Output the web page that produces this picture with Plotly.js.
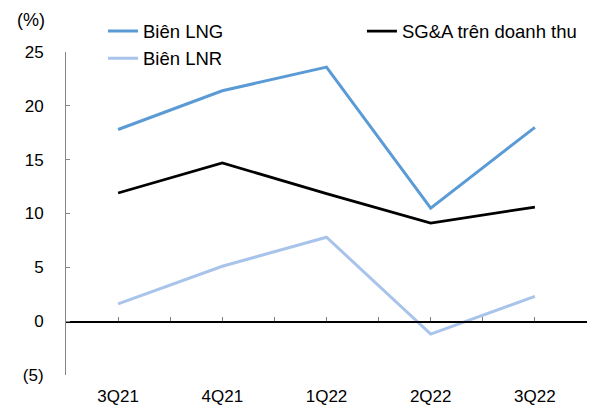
<!DOCTYPE html>
<html>
<head>
<meta charset="utf-8">
<script src="https://cdn.plot.ly/plotly-3.0.1.min.js"></script>
<style>html,body{margin:0;padding:0;background:#fff;}#chart{width:593px;height:410px;}</style>
</head>
<body>
<div id="chart"></div>
<script>
const categories = ['3Q21', '4Q21', '1Q22', '2Q22', '3Q22'];
const bienLNG = [17.8, 21.4, 23.6, 10.5, 18.0];
const sgaRevenue = [11.9, 14.7, 11.85, 9.1, 10.6];
const bienLNR = [1.6, 5.1, 7.8, -1.2, 2.3];
const yTickVals = [-5, 0, 5, 10, 15, 20, 25];
const yTickText = ['(5)', '0', '5', '10', '15', '20', '25'];
const seriesNames = ['Biên LNG', 'SG&A trên doanh thu', 'Biên LNR'];

const FONT = 'Liberation Sans, Arial, sans-serif';
const FS = 17;

// category positions on a linear axis (index of each category)
const xIdx = categories.map((c, i) => i);
// tick marks at every category and every boundary between categories
const xTickVals = [], xTickText = [];
for (let i = 0; i <= categories.length * 2; i++) {
  const v = -0.5 + i * 0.5;
  xTickVals.push(v);
  xTickText.push(i % 2 === 1 ? categories[(i - 1) / 2] : '');
}

const traces = [
  {x: xIdx, y: bienLNG, name: seriesNames[0], type: 'scatter', mode: 'lines',
   line: {color: '#5B9BD5', width: 3}, legend: 'legend'},
  {x: xIdx, y: sgaRevenue, name: seriesNames[1], type: 'scatter', mode: 'lines',
   line: {color: '#000000', width: 2.75}, legend: 'legend2'},
  {x: xIdx, y: bienLNR, name: seriesNames[2], type: 'scatter', mode: 'lines',
   line: {color: '#A9C4EB', width: 3}, legend: 'legend'}
];

const yMin = -5, yMax = 25;
const zeroPos = (0 - yMin) / (yMax - yMin);
const legendFont = {family: FONT, size: 18.5, color: '#000'};

const layout = {
  width: 593, height: 410,
  margin: {l: 66, r: 6, t: 52, b: 35},
  paper_bgcolor: '#fff', plot_bgcolor: '#fff',
  font: {family: FONT, size: FS, color: '#000'},
  showlegend: true,
  legend: {orientation: 'v', x: 0.071, y: 1.122, xanchor: 'left', yanchor: 'top',
           font: legendFont, bgcolor: 'rgba(0,0,0,0)', traceorder: 'normal'},
  legend2: {orientation: 'v', x: 0.568, y: 1.122, xanchor: 'left', yanchor: 'top',
           font: legendFont, bgcolor: 'rgba(0,0,0,0)'},
  xaxis: {type: 'linear', anchor: 'free', position: zeroPos,
          range: [-0.5, categories.length - 0.5],
          showline: true, linecolor: '#000', linewidth: 1.5,
          tickmode: 'array', tickvals: xTickVals, ticktext: xTickText,
          ticks: 'inside', ticklen: 4, tickcolor: '#7f7f7f', tickwidth: 1,
          showgrid: false, zeroline: false, tickfont: {family: FONT, size: FS},
          ticklabelstandoff: 59},
  yaxis: {range: [yMin, yMax], tickvals: yTickVals, ticktext: yTickText, showline: true,
          linecolor: '#868686', linewidth: 1, ticks: 'inside', ticklen: 4, tickcolor: '#868686',
          showgrid: false, zeroline: false, tickfont: {family: FONT, size: FS},
          ticklabelstandoff: 18},
  annotations: [{text: '(%)', xref: 'paper', yref: 'paper', x: -0.067, y: 1.099,
                 xanchor: 'center', yanchor: 'middle', showarrow: false,
                 font: {family: FONT, size: 18}}]
};

Plotly.newPlot('chart', traces, layout, {displayModeBar: false, staticPlot: true});
</script>
</body>
</html>
